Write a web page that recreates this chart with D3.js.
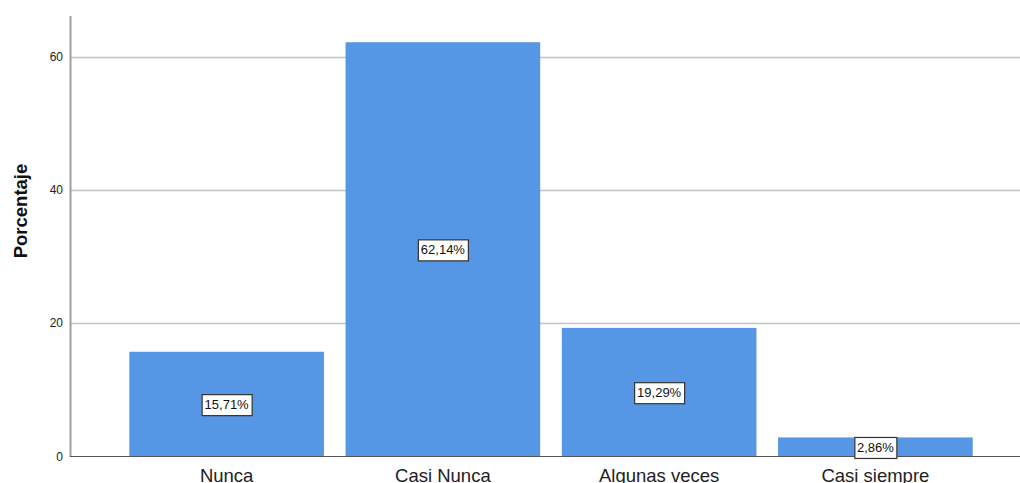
<!DOCTYPE html>
<html><head><meta charset="utf-8">
<script src="https://cdn.jsdelivr.net/npm/d3@7"></script>
<style>body{margin:0;background:#fff;} svg{display:block;font-family:"Liberation Sans",Arial,sans-serif;}</style>
</head><body>
<svg id="c" width="1020" height="483"></svg>
<script>
const categories = ["Nunca", "Casi Nunca", "Algunas veces", "Casi siempre"];
const values = [15.71, 62.14, 19.29, 2.86];
const labels = ["15,71%", "62,14%", "19,29%", "2,86%"];
const yTicks = [0, 20, 40, 60];

const svg = d3.select("#c");
const x = d3.scaleBand().domain(categories).range([118.5, 983.5]).paddingInner(0.1).paddingOuter(0.05);
const y = d3.scaleLinear().domain([0, 66]).range([456.5, 16.5]);

// gridlines
svg.append("g").selectAll("line").data(yTicks.filter(d => d > 0)).join("line")
  .attr("x1", 70).attr("x2", 1020).attr("y1", d => Math.round(y(d)) + 0.5).attr("y2", d => Math.round(y(d)) + 0.5)
  .attr("stroke", "#c4c4c4").attr("stroke-width", 1.5);

// bars
svg.append("g").selectAll("rect").data(values).join("rect")
  .attr("x", (d, i) => x(categories[i])).attr("width", x.bandwidth())
  .attr("y", d => y(d)).attr("height", d => y(0) - y(d))
  .attr("fill", "#5596e5");

// y axis line
svg.append("line").attr("x1", 70.5).attr("x2", 70.5).attr("y1", 16).attr("y2", 457)
  .attr("stroke", "#a0a0a0").attr("stroke-width", 2);
// x axis line
svg.append("line").attr("x1", 70).attr("x2", 1020).attr("y1", 456.5).attr("y2", 456.5)
  .attr("stroke", "#555").attr("stroke-width", 1);

// y tick labels
svg.append("g").selectAll("text").data(yTicks).join("text")
  .attr("x", 63).attr("y", d => y(d)).attr("dy", "0.35em").attr("text-anchor", "end")
  .attr("font-size", 12).attr("fill", "#222").text(d => d);

// x labels
svg.append("g").selectAll("text").data(categories).join("text")
  .attr("x", d => x(d) + x.bandwidth() / 2).attr("y", 482).attr("text-anchor", "middle")
  .attr("font-size", 18.5).attr("fill", "#222").text(d => d);

// y title
svg.append("text").attr("transform", "translate(27,211) rotate(-90)").attr("text-anchor", "middle")
  .attr("font-size", 18.5).attr("font-weight", "bold").attr("fill", "#111").text("Porcentaje");

// value labels
const lg = svg.append("g").selectAll("g").data(values).join("g")
  .attr("transform", (d, i) => `translate(${x(categories[i]) + x.bandwidth() / 2},${(y(d) + y(0)) / 2})`);
lg.each(function(d, i) {
  const g = d3.select(this);
  const t = g.append("text").attr("text-anchor", "middle").attr("dy", "0.36em")
    .attr("font-size", 13).attr("fill", "#111").text(labels[i]);
  const bb = t.node().getBBox();
  g.insert("rect", "text").attr("x", Math.round(bb.x - 2.5) + 0.5).attr("y", Math.round(-10.5) + 0.5)
    .attr("width", Math.round(bb.width + 5)).attr("height", 21)
    .attr("fill", "#fff").attr("stroke", "#333").attr("stroke-width", 1.2);
});
</script>
</body></html>
